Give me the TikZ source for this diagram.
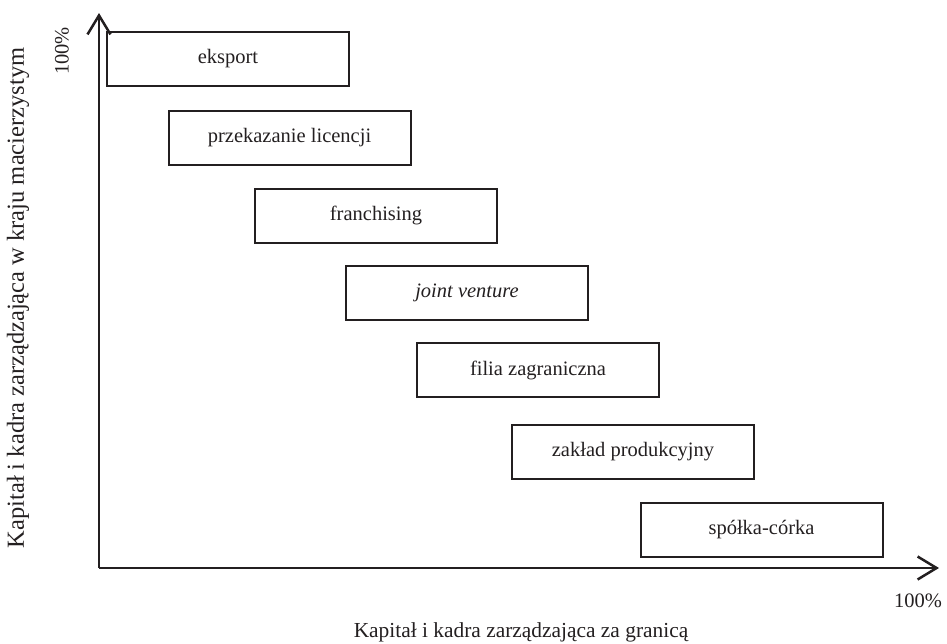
\documentclass[tikz,border=0pt]{standalone}
\usepackage{fontspec}
\setmainfont{Liberation Serif}
\usetikzlibrary{arrows.meta}
\definecolor{ink}{HTML}{231F20}
\begin{document}
\begin{tikzpicture}[x=1pt,y=-1pt,
  every node/.style={font=\fontsize{20.5}{24}\selectfont, text=ink},
  axislabel/.style={font=\fontsize{21.4}{25}\selectfont},
  sidelabel/.style={font=\fontsize{24.5}{28}\selectfont},
  formbox/.style={draw=ink, line width=2pt, minimum width=242pt, minimum height=54pt, inner sep=0pt},
  axis/.style={draw=ink, line width=2.5pt, -{Straight Barb[length=19pt,width=23pt,line width=2.5pt]}}]
\useasboundingbox (0,0) rectangle (947,643);
\coordinate (O) at (99,568);
\coordinate (Ytop) at (99,13);
\coordinate (Xend) at (939,568);
\draw[axis] (O) -- (Ytop);
\draw[axis] (O) -- (Xend);
\node[formbox] (b1) at (228,59) {eksport};
\node[formbox] (b2) at (289.5,137.5) {przekazanie licencji};
\node[formbox] (b3) at (376,215.5) {franchising};
\node[formbox] (b4) at (467,292.5) {\itshape joint venture};
\node[formbox] (b5) at (538,370) {filia zagraniczna};
\node[formbox] (b6) at (633,452) {zakład produkcyjny};
\node[formbox] (b7) at (761.5,530) {spółka-córka};
\node[rotate=90] (ytop) at (62,51) {100\%};
\node (xend) at (918,601) {100\%};
\node[axislabel] (xlabel) at (521,632) {Kapitał i kadra zarządzająca za granicą};
\node[sidelabel,rotate=90] (ylabel) at (18,298) {Kapitał i kadra zarządzająca w kraju macierzystym};
\end{tikzpicture}
\end{document}
